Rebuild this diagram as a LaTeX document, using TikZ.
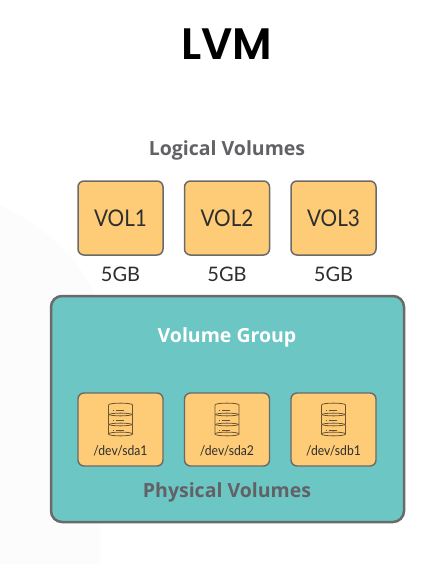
\documentclass[tikz,border=0pt]{standalone}
\usepackage{fontspec}
\setmainfont{Lato}
\newfontfamily\titlefont{Poppins SemiBold}
\newfontfamily\headfont{Open Sans}
\newfontfamily\thinfont[FakeStretch=0.9]{Lato}
\definecolor{boxfill}{HTML}{FECB76}
\definecolor{teal}{HTML}{6CC6C3}
\definecolor{edge}{HTML}{6A6A6A}
\definecolor{headtext}{HTML}{626266}
\definecolor{ink}{HTML}{2E2E2E}
\definecolor{iconink}{HTML}{6B5433}
\definecolor{faint}{HTML}{FCFCFC}
\tikzset{
  volbox/.style={draw=edge,fill=boxfill,line width=1.5pt,rounded corners=6pt,minimum width=85pt,minimum height=74pt,inner sep=0pt,text=ink,font=\thinfont\fontsize{23}{26}\selectfont},
  pvbox/.style={draw=edge,fill=boxfill,line width=1.4pt,rounded corners=6pt,minimum width=85pt,minimum height=73pt,inner sep=0pt},
  sizelabel/.style={text=ink,inner sep=0pt,font=\fontsize{20}{24}\selectfont},
  devlabel/.style={text=ink,inner sep=0pt,font=\thinfont\fontsize{13.5}{16}\selectfont},
  heading/.style={inner sep=0pt,font=\headfont\bfseries\fontsize{19.5}{24}\selectfont},
  disc/.style={draw=iconink,line width=0.8pt,line join=round},
  pics/dbicon/.style={code={
    \foreach \t in {10,0,-10}{
      \draw[disc] (-12,\t-5) -- (-12,\t+4) .. controls (-12,\t+6.5) and (12,\t+6.5) .. (12,\t+4) -- (12,\t-5) .. controls (12,\t-7.5) and (-12,\t-7.5) .. (-12,\t-5);
      \draw[disc,line width=0.6pt] (-8,\t) -- (-7,\t) (-5,\t) -- (3,\t);
    }
    \draw[disc] (-12,14) .. controls (-12,11.5) and (12,11.5) .. (12,14);
  }}
}
\begin{document}
\begin{tikzpicture}[x=1pt,y=-1pt]
\useasboundingbox (0,0) rectangle (441,564);
\fill[white] (0,0) rectangle (441,564);
\fill[faint] (0,205) .. controls (60,235) and (95,275) .. (100,320) -- (100,564) -- (0,564) -- cycle;
\node[inner sep=0pt,font=\titlefont\fontsize{44}{48}\selectfont,text=black] (title) at (227,44) {LVM};
\node[heading,text=headtext] (lv) at (227,150.5) {Logical Volumes};
\node[volbox] (v1) at (120.5,218) {VOL1};
\node[volbox] (v2) at (227,218) {VOL2};
\node[volbox] (v3) at (333.5,218) {VOL3};
\node[sizelabel] (s1) at (120.5,274) {5GB};
\node[sizelabel] (s2) at (227,274) {5GB};
\node[sizelabel] (s3) at (333.5,274) {5GB};
\node[draw=edge,fill=teal,line width=2.5pt,rounded corners=11pt,minimum width=353pt,minimum height=226pt,inner sep=0pt] (vg) at (227.5,409) {};
\node[heading,text=white] (vgl) at (227,337.5) {Volume Group};
\node[pvbox] (p1) at (120.5,429.5) {};
\node[pvbox] (p2) at (227,429.5) {};
\node[pvbox] (p3) at (333.5,429.5) {};
\pic at (120.5,420) {dbicon};
\pic at (227,420) {dbicon};
\pic at (333.5,420) {dbicon};
\node[devlabel] (d1) at (120.5,451) {/dev/sda1};
\node[devlabel] (d2) at (227,451) {/dev/sda2};
\node[devlabel] (d3) at (333.5,451) {/dev/sdb1};
\node[heading,text=headtext] (pv) at (227,492.5) {Physical Volumes};
\end{tikzpicture}
\end{document}
